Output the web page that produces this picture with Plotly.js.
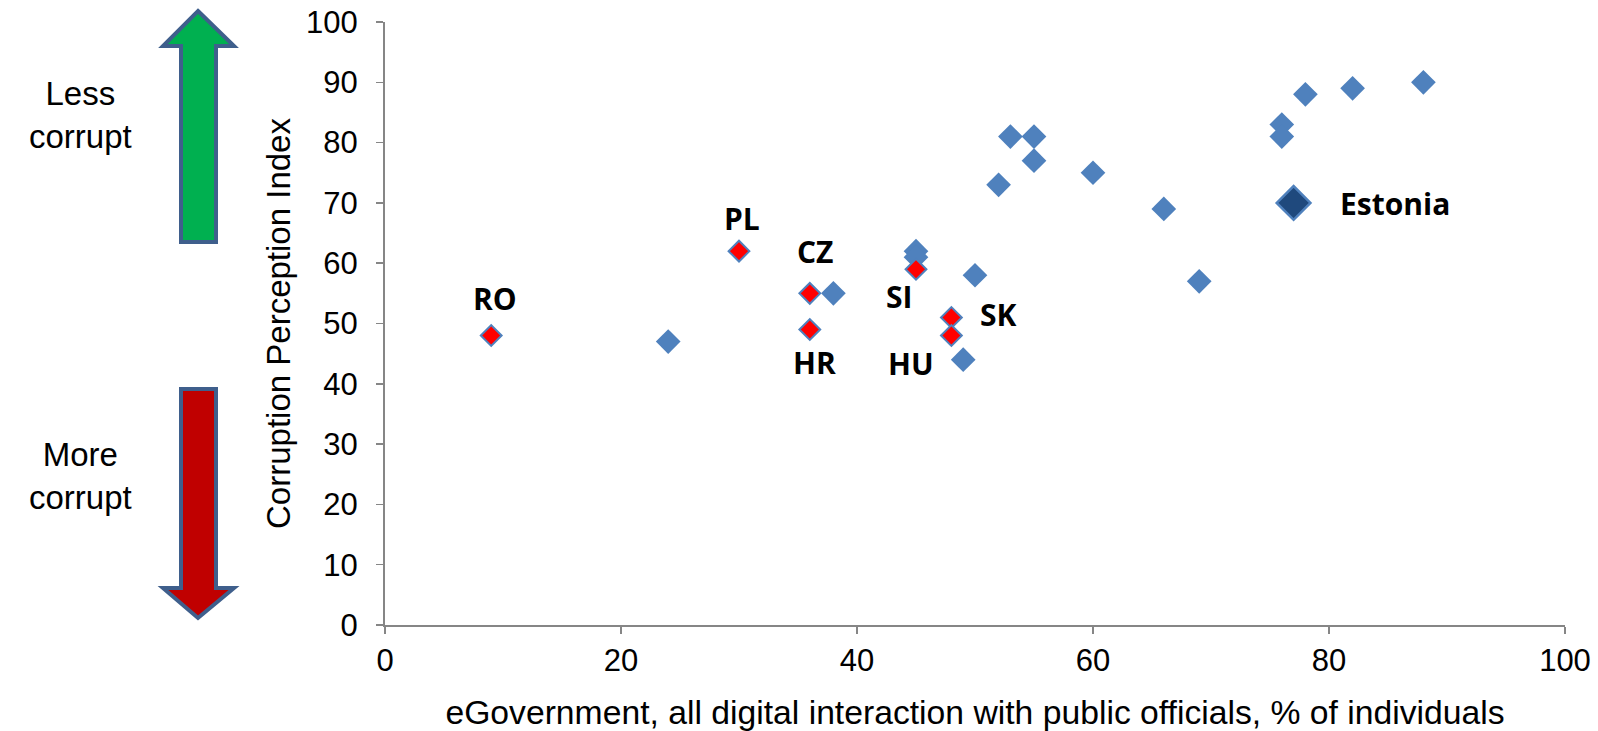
<!DOCTYPE html>
<html>
<head>
<meta charset="utf-8">
<script src="https://cdn.plot.ly/plotly-3.0.1.min.js"></script>
<style>html,body{margin:0;padding:0;background:#fff}#chart{width:1598px;height:731px}</style>
</head>
<body>
<div id="chart"></div>
<script>
// ---- data ----
const otherX = [24, 38, 45, 45, 49, 50, 52, 53, 55, 55, 60, 66, 69, 76, 76, 78, 82, 88];
const otherY = [47, 55, 62, 61, 44, 58, 73, 81, 81, 77, 75, 69, 57, 83, 81, 88, 89, 90];
const cee = ['RO', 'PL', 'CZ', 'HR', 'SI', 'SK', 'HU'];
const ceeX = [9, 30, 36, 36, 45, 48, 48];
const ceeY = [48, 62, 55, 49, 59, 51, 48];
const estName = ['Estonia'];
const estX = [77];
const estY = [70];
const xTicks = [0, 20, 40, 60, 80, 100];
const yTicks = [0, 10, 20, 30, 40, 50, 60, 70, 80, 90, 100];

// ---- styling / layout helpers ----
const W = 1598, H = 731;
const L = 385, R = 1565, T = 22, B = 625;
const px = X => (X - L) / (R - L);
const py = Y => (B - Y) / (B - T);
const labelShift = [[4, 37], [3, 33], [6, 42], [5, -33], [-17, -27], [47, 3], [-40, -28]];
const blue = '#4F81BD';

function poly(pts) {
  return 'M ' + pts.map(p => px(p[0]).toFixed(5) + ',' + py(p[1]).toFixed(5)).join(' L ') + ' Z';
}
const upArrow = poly([[198, 11], [234, 46], [216, 46], [216, 242], [181, 242], [181, 46], [163, 46]]);
const downArrow = poly([[181, 389], [216, 389], [216, 588], [234, 588], [198, 618], [163, 588], [181, 588]]);

const traces = [
  {x: otherX, y: otherY, type: 'scatter', mode: 'markers', hoverinfo: 'x+y',
   marker: {symbol: 'diamond', size: 19, color: blue, line: {width: 0}}},
  {x: ceeX, y: ceeY, text: cee, type: 'scatter', mode: 'markers',
   marker: {symbol: 'diamond', size: 16, color: '#FF0000', line: {width: 2, color: blue}}},
  {x: estX, y: estY, text: estName, type: 'scatter', mode: 'markers',
   marker: {symbol: 'diamond', size: 26, color: '#1F497D', line: {width: 2.5, color: blue}}}
];

const labelFont = {family: '"Open Sans", Lato, sans-serif', size: 30, color: '#000'};
const annotations = cee.map((t, i) => ({
  x: ceeX[i], y: ceeY[i], xref: 'x', yref: 'y', text: '<b>' + t + '</b>', showarrow: false,
  xanchor: 'center', yanchor: 'middle', xshift: labelShift[i][0], yshift: labelShift[i][1], font: labelFont
}));
annotations.push({x: estX[0], y: estY[0], xref: 'x', yref: 'y', text: '<b>' + estName[0] + '</b>', showarrow: false,
  xanchor: 'left', yanchor: 'middle', xshift: 44, yshift: -1, font: labelFont});
const sideFont = {family: 'Liberation Sans, Arial, sans-serif', size: 33, color: '#000'};
annotations.push({x: px(80), y: py(115), xref: 'paper', yref: 'paper', text: 'Less<br>corrupt', showarrow: false,
  xanchor: 'center', yanchor: 'middle', align: 'center', font: sideFont});
annotations.push({x: px(80), y: py(476), xref: 'paper', yref: 'paper', text: 'More<br>corrupt', showarrow: false,
  xanchor: 'center', yanchor: 'middle', align: 'center', font: sideFont});

const tickFont = {family: 'Liberation Sans, Arial, sans-serif', size: 31, color: '#000'};
const titleFont = {family: 'Liberation Sans, Arial, sans-serif', size: 33, color: '#000'};
const xTitleFont = {family: 'Liberation Sans, Arial, sans-serif', size: 33.7, color: '#000'};
const layout = {
  width: W, height: H,
  margin: {l: L, r: W - R, t: T, b: H - B},
  paper_bgcolor: '#fff', plot_bgcolor: '#fff',
  showlegend: false,
  font: tickFont,
  xaxis: {
    range: [0, 100], tickvals: xTicks, ticktext: xTicks.map(String),
    showgrid: false, zeroline: false, showline: true, linecolor: '#868686', linewidth: 2,
    ticks: 'outside', ticklen: 7, tickwidth: 1.5, tickcolor: '#868686',
    tickfont: tickFont,
    title: {text: 'eGovernment, all digital interaction with public officials, % of individuals', font: xTitleFont, standoff: 25}
  },
  yaxis: {
    range: [0, 100], tickvals: yTicks, ticktext: yTicks.map(String),
    showgrid: false, zeroline: false, showline: true, linecolor: '#868686', linewidth: 2,
    ticks: 'outside', ticklen: 7, tickwidth: 1.5, tickcolor: '#868686',
    tickfont: tickFont, ticklabelstandoff: 12,
    title: {text: 'Corruption Perception Index', font: titleFont, standoff: 6}
  },
  shapes: [
    {type: 'path', xref: 'paper', yref: 'paper', path: upArrow, fillcolor: '#00B050', line: {color: '#3F5F8C', width: 4}, layer: 'above'},
    {type: 'path', xref: 'paper', yref: 'paper', path: downArrow, fillcolor: '#C00000', line: {color: '#3F5F8C', width: 4}, layer: 'above'}
  ],
  annotations: annotations
};

Plotly.newPlot('chart', traces, layout, {displayModeBar: false, staticPlot: true});
</script>
</body>
</html>
